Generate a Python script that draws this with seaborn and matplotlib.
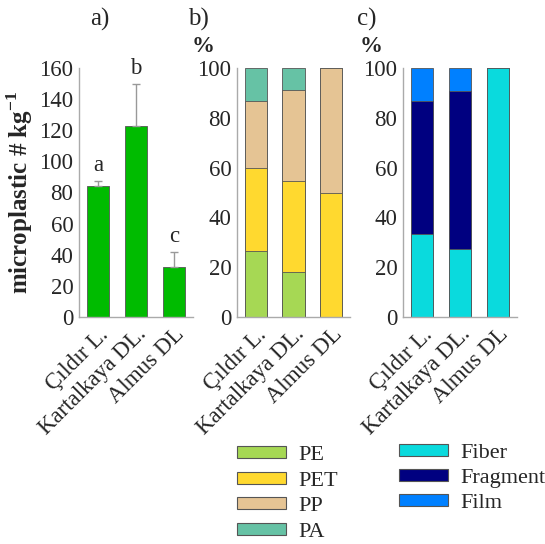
import matplotlib
matplotlib.use("Agg")
import matplotlib.pyplot as plt
import seaborn as sns
import pandas as pd
import numpy as np
from matplotlib.patches import Patch

sites = ["Çıldır L.", "Kartalkaya DL.", "Almus DL"]
abundance = [84, 123, 32]
abundance_err = [3.5, 27, 10]
sig_letters = ["a", "b", "c"]

polymer_names = ["PE", "PET", "PP", "PA"]
pe = [26.7, 18.2, 0]
pet = [33.3, 36.4, 50]
pp = [26.7, 36.4, 50]
pa = [13.3, 9.1, 0]

shape_names = ["Fiber", "Fragment", "Film"]
fiber = [33.3, 27.3, 100]
fragment = [53.4, 63.6, 0]
film = [13.3, 9.1, 0]

polymer_colors = ["#a6d854", "#ffd92f", "#e5c494", "#66c2a5"]
shape_colors = ["#0adadd", "#000080", "#0080ff"]
bar_green = "#00bb00"

sns.set_theme(style="white")
plt.rcParams["font.family"] = ["Liberation Serif", "DejaVu Serif"]
plt.rcParams["mathtext.fontset"] = "custom"
plt.rcParams["mathtext.rm"] = "Liberation Serif"
plt.rcParams["mathtext.bf"] = "Liberation Serif:bold"
FS = 16.5

fig = plt.figure(figsize=(5.45, 5.44), dpi=100)
W, H = 545, 544
def ax_at(x0, x1, y0, y1):
    return fig.add_axes([x0 / W, 1 - y1 / H, (x1 - x0) / W, (y1 - y0) / H])

axa = ax_at(79, 193, 68, 317)
axb = ax_at(237, 350, 68, 317)
axc = ax_at(403, 517, 68, 317)

edge = "#555555"
dfa = pd.DataFrame({"site": sites, "value": abundance})
sns.barplot(data=dfa, x="site", y="value", color=bar_green, ax=axa, width=0.6,
            edgecolor=edge, linewidth=0.6, saturation=1)
xpos = np.arange(len(sites))
axa.errorbar(xpos, abundance, yerr=[np.zeros(3), abundance_err], fmt="none",
             ecolor="#999999", elinewidth=1, capsize=3, capthick=1)
for i, (v, e, l) in enumerate(zip(abundance, abundance_err, sig_letters)):
    axa.text(i, v + e + 3, l, ha="center", va="bottom", fontsize=FS)
axa.set_ylim(0, 160)
axa.set_yticks(range(0, 161, 20))
axa.set_ylabel("microplastic # kg$^{\\mathbf{-1}}$", fontsize=18, fontweight="bold", labelpad=3)

def stacked(ax, layers, colors):
    cum = np.cumsum(np.array(layers), axis=0)
    for k in range(len(layers) - 1, -1, -1):
        d = pd.DataFrame({"site": sites, "value": cum[k]})
        sns.barplot(data=d, x="site", y="value", color=colors[k], ax=ax, width=0.6,
                    edgecolor=edge, linewidth=0.6, saturation=1)
    ax.set_ylim(0, 100)
    ax.set_yticks(range(0, 101, 20))
    ax.set_ylabel("")

stacked(axb, [pe, pet, pp, pa], polymer_colors)
stacked(axc, [fiber, fragment, film], shape_colors)

for ax in (axa, axb, axc):
    ax.set_xlim(-0.5, 2.5)
    ax.set_xlabel("")
    for s in ("top", "right"):
        ax.spines[s].set_visible(False)
    for s in ("left", "bottom"):
        ax.spines[s].set_color("#aaaaaa")
        ax.spines[s].set_linewidth(1)
    ax.tick_params(axis="y", length=0, labelsize=FS, pad=4)
    ax.tick_params(axis="x", length=3, color="#aaaaaa", width=1, labelsize=FS, pad=2)
    ax.set_xticks(xpos)
    ax.set_xticklabels(sites, rotation=45, ha="right", rotation_mode="anchor")

fig.text(100 / W, 1 - 19 / H, "a)", fontsize=18, ha="center", va="center")
fig.text(198 / W, 1 - 19 / H, "b)", fontsize=18, ha="center", va="center")
fig.text(367 / W, 1 - 19 / H, "c)", fontsize=18, ha="center", va="center")
fig.text(203 / W, 1 - 46 / H, "%", fontsize=FS, fontweight="bold", ha="center", va="center")
fig.text(371 / W, 1 - 46 / H, "%", fontsize=FS, fontweight="bold", ha="center", va="center")

h1 = [Patch(facecolor=c, edgecolor=edge, linewidth=0.8, label=n) for c, n in zip(polymer_colors, polymer_names)]
h2 = [Patch(facecolor=c, edgecolor=edge, linewidth=0.8, label=n) for c, n in zip(shape_colors, shape_names)]
lkw = dict(frameon=False, fontsize=16, handlelength=2.2, handleheight=0.45,
           handletextpad=0.55, borderpad=0, borderaxespad=0, loc="upper left")
fig.legend(handles=h1, bbox_to_anchor=(237 / W, 1 - 446 / H), labelspacing=0.3, **lkw)
fig.legend(handles=h2, bbox_to_anchor=(399 / W, 1 - 444 / H), labelspacing=0.27, **lkw)

fig.savefig("out.png", dpi=100)
